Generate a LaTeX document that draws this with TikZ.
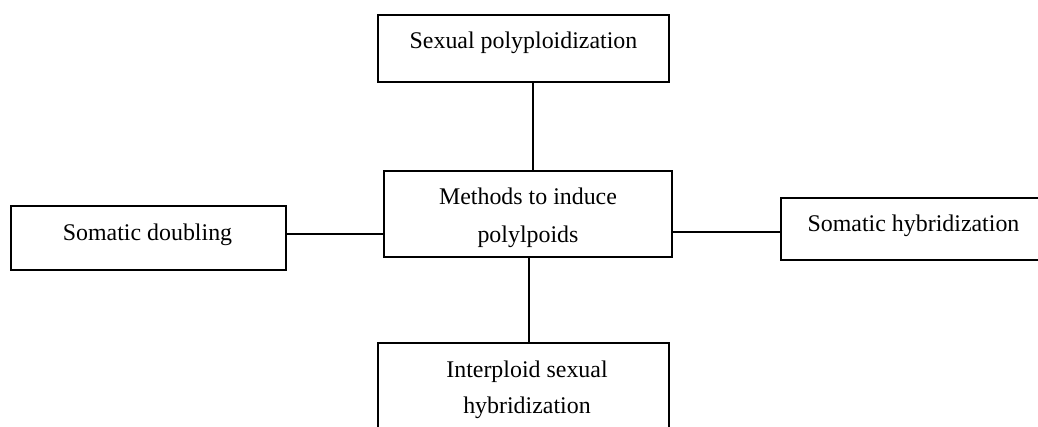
\documentclass[tikz,border=0pt]{standalone}
\usepackage{fontspec}
\setmainfont{Liberation Serif}
\usepackage{tikz}
\usetikzlibrary{backgrounds,shapes,fit}
\pgfdeclarelayer{edgelayer}
\pgfdeclarelayer{nodelayer}
\pgfsetlayers{edgelayer,nodelayer,main}
\tikzstyle{none}=[inner sep=0pt]
\tikzstyle{method}=[rectangle,draw=black,line width=1.2pt,inner sep=0pt]
\tikzstyle{caption}=[inner sep=0pt,align=center,font=\fontsize{17}{27}\selectfont]
\tikzstyle{link}=[-,line width=1.2pt]

\begin{document}
\begin{tikzpicture}
	\useasboundingbox (0,0) rectangle (25.95,10.65);
	\begin{pgfonlayer}{nodelayer}
		\node [style=method, minimum width=7.275cm, minimum height=1.675cm] (sexual) at (13.0875, 9.4375) {};
		\node [style=method, minimum width=7.2cm, minimum height=2.15cm] (methods) at (13.2, 5.3) {};
		\node [style=method, minimum width=6.875cm, minimum height=1.6cm] (doubling) at (3.7125, 4.7) {};
		\node [style=method, minimum width=6.625cm, minimum height=1.55cm] (hybrid) at (22.8375, 4.925) {};
		\node [style=method, minimum width=7.275cm, minimum height=2.15cm] (interploid) at (13.0875, 1.0) {};
		\node [style=caption] (sexual-t) at (13.0875, 9.5825) {Sexual polyploidization};
		\node [style=caption] (methods-t) at (13.2, 5.2) {Methods to induce\\polylpoids};
		\node [style=caption] (doubling-t) at (3.6875, 4.7825) {Somatic doubling};
		\node [style=caption] (hybrid-t) at (22.8375, 5.0) {Somatic hybridization};
		\node [style=caption, font=\fontsize{17}{25.6}\selectfont] (interploid-t) at (13.175, 0.905) {Interploid sexual\\hybridization};
	\end{pgfonlayer}
	\begin{pgfonlayer}{edgelayer}
		\draw [style=link] ([xshift=0.2375cm]sexual.south) coordinate (s) -- (s |- methods.north);
		\draw [style=link] ([xshift=0.025cm]methods.south) coordinate (i) -- (i |- interploid.north);
		\draw [style=link] ([yshift=0.1cm]doubling.east) coordinate (d) -- (d -| methods.west);
		\draw [style=link] ([yshift=-0.075cm]hybrid.west) coordinate (h) -- (h -| methods.east);
	\end{pgfonlayer}
\end{tikzpicture}
\end{document}
